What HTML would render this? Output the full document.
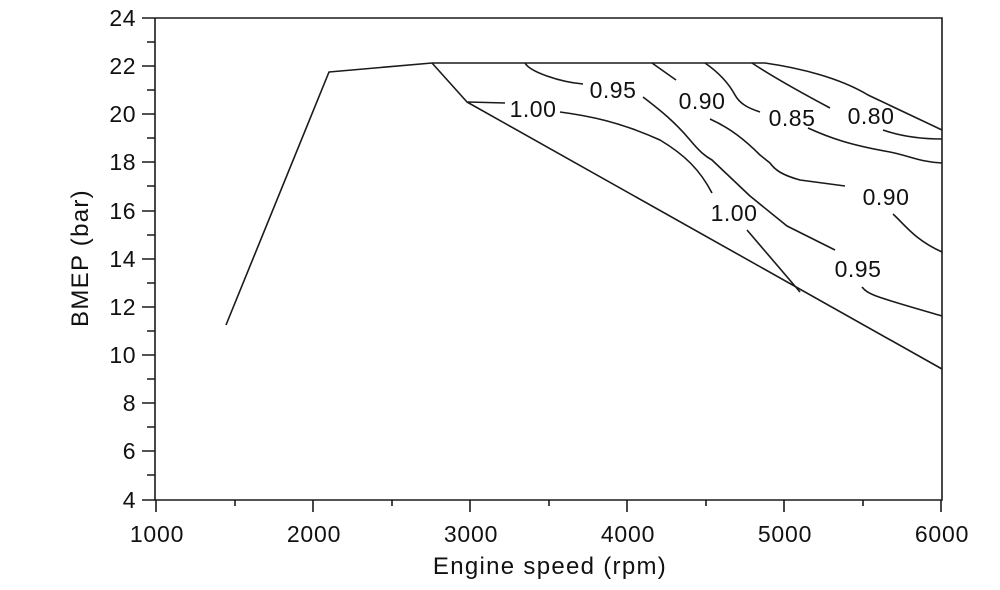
<!DOCTYPE html>
<html><head><meta charset="utf-8"><style>
html,body{margin:0;padding:0;background:#fff;}
svg text{font-family:"Liberation Sans",sans-serif;fill:#111;}
</style></head><body>
<svg width="1000" height="585" viewBox="0 0 1000 585" xmlns="http://www.w3.org/2000/svg">
<g stroke="#1a1a1a" stroke-width="1.6" fill="none">
<path d="M155 18 V500 H942 V18 H155"/>
<path d="M142 18H155M142 66H155M142 114H155M142 162H155M142 211H155M142 259H155M142 307H155M142 355H155M142 403H155M142 451H155M142 500H155"/>
<path d="M147 42H155M147 90H155M147 138H155M147 186H155M147 235H155M147 283H155M147 331H155M147 379H155M147 427H155M147 475H155"/>
<path d="M156 500V512M313 500V512M470 500V512M627 500V512M784 500V512M941 500V512"/>
<path d="M235 500V506M392 500V506M549 500V506M706 500V506M863 500V506"/>
</g>
<g stroke="#1a1a1a" stroke-width="1.6" fill="none" stroke-linejoin="round">
<path d="M226 325 L329 72 L432 63 L765 63 C800 68 840 78 868 95 L942 130"/>
<path d="M432 63 L467 102 L942 369"/>
<path d="M468 102 L505 103"/>
<path d="M560 112 C590 116 620 122 660 140 C685 155 700 170 712 193"/>
<path d="M747 230 L800 292"/>
<path d="M525 63 C530 72 560 82 583 84"/>
<path d="M643 97 C660 110 675 122 690 140 C700 152 705 156 712 160 L750 196 L787 226 L835 250"/>
<path d="M862 287 C868 295 880 298 942 316"/>
<path d="M652 63 L676 80"/>
<path d="M710 119 C730 128 745 140 760 155 L770 163 C775 170 782 175 800 180 L845 186"/>
<path d="M893 214 C905 225 915 240 942 252"/>
<path d="M705 63 C718 72 728 82 735 95 C740 104 748 108 760 112"/>
<path d="M808 128 C830 138 850 145 890 152 C910 156 920 162 942 163"/>
<path d="M752 63 C770 75 800 92 830 108"/>
<path d="M883 130 C900 136 920 139 942 139"/>
</g>
<g font-size="23" text-anchor="middle" letter-spacing="0.5">
<text x="533" y="117">1.00</text>
<text x="613" y="98">0.95</text>
<text x="702" y="109">0.90</text>
<text x="792" y="126">0.85</text>
<text x="871" y="124">0.80</text>
<text x="886" y="205">0.90</text>
<text x="734" y="221">1.00</text>
<text x="858" y="277">0.95</text>
</g>
<g font-size="23" text-anchor="end" letter-spacing="0.5">
<text x="136" y="26">24</text><text x="136" y="74">22</text><text x="136" y="122">20</text>
<text x="136" y="170">18</text><text x="136" y="219">16</text><text x="136" y="267">14</text>
<text x="136" y="315">12</text><text x="136" y="363">10</text><text x="136" y="411">8</text>
<text x="136" y="459">6</text><text x="136" y="508">4</text>
</g>
<g font-size="23" text-anchor="middle" letter-spacing="0.8">
<text x="157" y="542">1000</text><text x="314" y="542">2000</text><text x="471" y="542">3000</text>
<text x="628" y="542">4000</text><text x="785" y="542">5000</text><text x="942" y="542">6000</text>
</g>
<g font-size="24" text-anchor="middle" letter-spacing="1.3">
<text x="550" y="574">Engine speed (rpm)</text>
<text transform="translate(88 258) rotate(-90)">BMEP (bar)</text>
</g>
</svg>
</body></html>
